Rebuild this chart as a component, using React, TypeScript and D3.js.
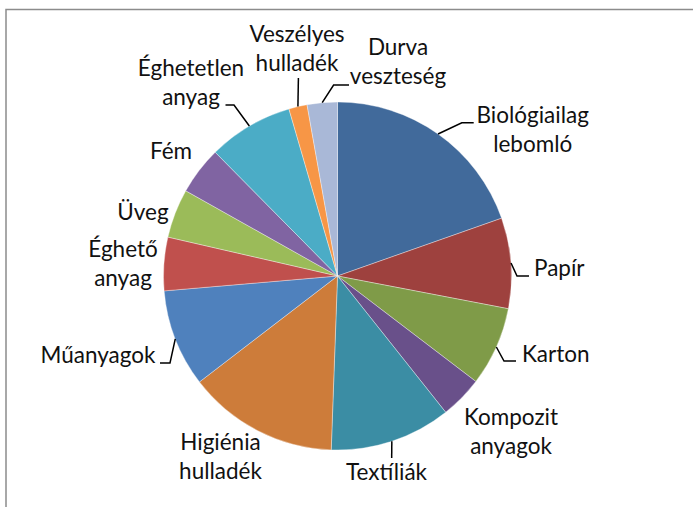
import React from "react";
import * as d3 from "d3";

const categories = [
  "Biológiailag lebomló",
  "Papír",
  "Karton",
  "Kompozit anyagok",
  "Textíliák",
  "Higiénia hulladék",
  "Műanyagok",
  "Éghető anyag",
  "Üveg",
  "Fém",
  "Éghetetlen anyag",
  "Veszélyes hulladék",
  "Durva veszteség",
];

const labelLines = [
  ["Biológiailag", "lebomló"],
  ["Papír"],
  ["Karton"],
  ["Kompozit", "anyagok"],
  ["Textíliák"],
  ["Higiénia", "hulladék"],
  ["Műanyagok"],
  ["Éghető", "anyag"],
  ["Üveg"],
  ["Fém"],
  ["Éghetetlen", "anyag"],
  ["Veszélyes", "hulladék"],
  ["Durva", "veszteség"],
];

const values = [19.6, 8.4, 7.35, 3.95, 11.25, 14.0, 9.05, 4.95, 4.55, 4.45, 7.9, 1.7, 2.8];

const colors = [
  "#416A9B",
  "#9E413E",
  "#7F9B48",
  "#69508A",
  "#3B8DA4",
  "#CD7C3A",
  "#4F81BD",
  "#C0504D",
  "#9BBB59",
  "#8064A2",
  "#4BACC6",
  "#F79646",
  "#A9B8D7",
];

// label layout: x, first baseline y, anchor, leader (elbow, end) or null
type Layout = { x: number; y: number; anchor: string; leader: null | [number, number, number, number] };
const labelLayout: Layout[] = [
  { x: 532.7, y: 123, anchor: "middle", leader: [461.8, 122.7, 473.7, 122.7] },
  { x: 534, y: 276, anchor: "start", leader: [517, 276, 529, 276] },
  { x: 522, y: 361.5, anchor: "start", leader: [504, 361, 516, 361] },
  { x: 511, y: 425, anchor: "middle", leader: null },
  { x: 386.5, y: 480, anchor: "middle", leader: [391.7, 458, 391.7, 458] },
  { x: 220.5, y: 450, anchor: "middle", leader: null },
  { x: 155.5, y: 363.3, anchor: "end", leader: [170, 363, 160, 363] },
  { x: 123, y: 257.3, anchor: "middle", leader: null },
  { x: 143, y: 220, anchor: "middle", leader: null },
  { x: 171, y: 159.3, anchor: "middle", leader: null },
  { x: 191, y: 76, anchor: "middle", leader: [234, 105, 225.5, 105] },
  { x: 297, y: 42, anchor: "middle", leader: [298.4, 78, 298.4, 78] },
  { x: 398, y: 55, anchor: "middle", leader: [333.6, 85, 349, 85] },
];

const W = 693;
const H = 507;
const CX = 337.5;
const CY = 276;
const R = 174;
const LINE_H = 28.5;

export default function App() {
  const pie = d3
    .pie<number>()
    .sort(null)
    .value((d) => d)
    .startAngle(0)
    .endAngle(2 * Math.PI);
  const arcs = pie(values);
  const arc = d3.arc<d3.PieArcDatum<number>>().innerRadius(0).outerRadius(R);

  return (
    <svg
      width={W}
      height={H}
      style={{ position: "absolute", left: 0, top: 0, display: "block", background: "#fff" }}
      fontFamily="Lato, 'Open Sans', sans-serif"
    >
      <rect x={6} y={9.5} width={W + 10} height={H + 10} fill="#fff" stroke="#8c8c8c" strokeWidth={1.5} />
      <g transform={`translate(${CX},${CY})`}>
        {arcs.map((a, i) => (
          <path key={categories[i]} d={arc(a) || ""} fill={colors[i]} stroke="#ffffff" strokeOpacity={0.6} strokeWidth={0.6} />
        ))}
      </g>
      {arcs.map((a, i) => {
        const L = labelLayout[i];
        if (!L.leader) return null;
        const mid = (a.startAngle + a.endAngle) / 2;
        const sx = CX + R * Math.sin(mid);
        const sy = CY - R * Math.cos(mid);
        const [ex, ey, tx, ty] = L.leader;
        return (
          <polyline
            key={"l" + i}
            points={`${sx},${sy} ${ex},${ey} ${tx},${ty}`}
            fill="none"
            stroke="#000"
            strokeWidth={1.5}
          />
        );
      })}
      {labelLines.map((lines, i) => {
        const L = labelLayout[i];
        return (
          <text key={"t" + i} x={L.x} y={L.y} textAnchor={L.anchor} fontSize={22.5} fill="#111">
            {lines.map((ln, j) => (
              <tspan key={j} x={L.x} y={L.y + j * LINE_H}>
                {ln}
              </tspan>
            ))}
          </text>
        );
      })}
    </svg>
  );
}
